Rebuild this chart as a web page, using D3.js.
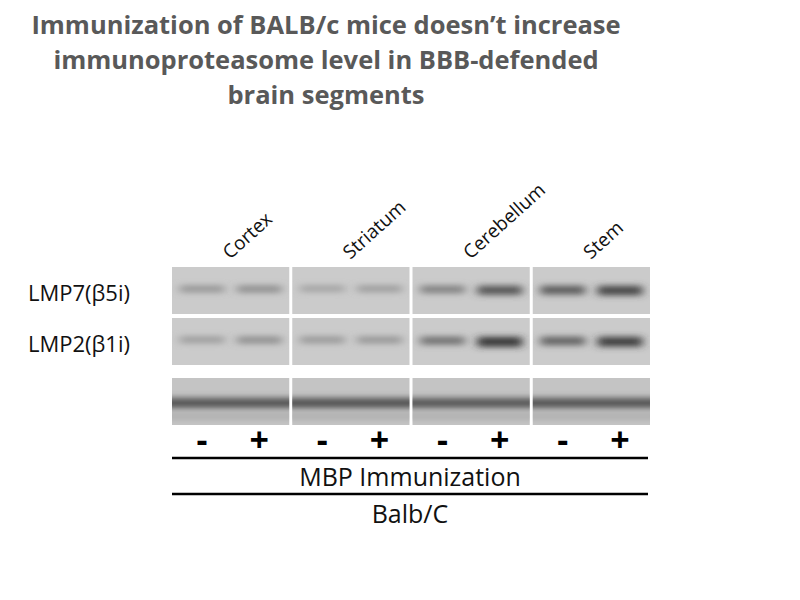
<!DOCTYPE html>
<html>
<head>
<meta charset="utf-8">
<script src="https://cdn.jsdelivr.net/npm/d3@7"></script>
<style>
body { margin: 0; background: #fff; }
text { font-family: "Open Sans", "Noto Sans", sans-serif; }
</style>
</head>
<body>
<div id="chart"></div>
<script>
// 数据
var regions = ['Cortex', 'Striatum', 'Cerebellum', 'Stem'];
var lanes = ['-', '+'];
var rows = ['LMP7(β5i)', 'LMP2(β1i)', ''];
// band intensity per region, lane (0..1)
var lmp7 = [[0.30, 0.35], [0.20, 0.25], [0.45, 0.75], [0.70, 0.85]];
var lmp2 = [[0.25, 0.35], [0.28, 0.30], [0.55, 0.95], [0.65, 0.90]];
var loading = [[0.70, 0.72], [0.72, 0.72], [0.68, 0.70], [0.70, 0.66]];
var titleLines = ['Immunization of BALB/c mice doesn\u2019t increase',
                  'immunoproteasome level in BBB-defended', 'brain segments'];

var width = 800, height = 600;
var svg = d3.select('#chart').append('svg').attr('width', width).attr('height', height);

var blur = svg.append('defs').append('filter').attr('id', 'blur')
    .attr('x', '-30%').attr('y', '-150%').attr('width', '160%').attr('height', '400%');
blur.append('feGaussianBlur').attr('stdDeviation', '5 3');

// 标题
svg.selectAll('.title').data(titleLines).enter().append('text')
    .attr('x', 326).attr('y', function(d, i) { return 34 + i * 35; })
    .attr('text-anchor', 'middle').style('font-size', '25.5px').style('font-weight', 'bold')
    .attr('fill', '#595959').text(function(d) { return d; });

// 面板比例尺
var panelX = d3.scaleBand().domain(regions).range([172, 650]).paddingInner(0.025);
var laneX = d3.scaleBand().domain(lanes).range([0, 1]).padding(0.05);
var rowY = d3.scaleOrdinal().domain([0, 1, 2]).range([267, 318, 378]);
var rowH = 47;
var bandShade = d3.scaleLinear().domain([0, 1]).range(['#b4b4b4', '#2a2a2a']);
var allData = [lmp7, lmp2, loading];

allData.forEach(function(data, r) {
    regions.forEach(function(reg, p) {
        var x0 = panelX(reg), w = panelX.bandwidth(), y0 = rowY(r);
        var g = svg.append('g');
        g.append('rect').attr('x', x0).attr('y', y0).attr('width', w).attr('height', rowH)
            .attr('fill', r === 2 ? '#c4c4c4' : '#cbcbcb');
        var clip = 'clip' + r + '_' + p;
        svg.select('defs').append('clipPath').attr('id', clip).append('rect')
            .attr('x', x0).attr('y', y0).attr('width', w).attr('height', rowH);
        var bands = g.append('g').attr('clip-path', 'url(#' + clip + ')');
        if (r === 2) {
            // continuous loading band across panel
            bands.append('rect').attr('x', x0 - 10).attr('y', y0 + 20).attr('width', w + 20).attr('height', 10)
                .attr('fill', bandShade(data[p][0])).attr('filter', 'url(#blur)');
            bands.append('rect').attr('x', x0 - 10).attr('y', y0 + 36).attr('width', w + 20).attr('height', 5)
                .attr('fill', '#a8a8a8').attr('filter', 'url(#blur)');
        } else {
            lanes.forEach(function(l, k) {
                var cx = x0 + w * (laneX(l) + laneX.bandwidth() / 2);
                var v = data[p][k];
                bands.append('rect').attr('x', cx - w * 0.19).attr('y', y0 + 19)
                    .attr('width', w * 0.38).attr('height', 4 + v * 6)
                    .attr('fill', bandShade(v)).attr('filter', 'url(#blur)');
            });
        }
    });
});

// 行标签
rows.forEach(function(t, i) {
    if (!t) return;
    svg.append('text').attr('x', 28).attr('y', rowY(i) + 34).style('font-size', '22px')
        .attr('fill', '#111').text(t);
});

// 区域标签（倾斜）
svg.selectAll('.reg').data(regions).enter().append('text')
    .attr('transform', function(d) {
        return 'translate(' + (panelX(d) + 58) + ',260) rotate(-42)';
    })
    .style('font-size', '19px').attr('fill', '#111').text(function(d) { return d; });

// +/- 标记
regions.forEach(function(reg) {
    lanes.forEach(function(l) {
        var cx = panelX(reg) + panelX.bandwidth() * (laneX(l) + laneX.bandwidth() / 2);
        svg.append('text').attr('x', cx).attr('y', 452).attr('text-anchor', 'middle')
            .style('font-size', '34px').style('font-weight', 'bold').attr('fill', '#000').text(l);
    });
});

// 分隔线和说明
[458, 494].forEach(function(y) {
    svg.append('line').attr('x1', 172).attr('x2', 648).attr('y1', y).attr('y2', y)
        .attr('stroke', '#000').attr('stroke-width', 2.5);
});
svg.append('text').attr('x', 410).attr('y', 486).attr('text-anchor', 'middle')
    .style('font-size', '25px').attr('fill', '#111').text('MBP Immunization');
svg.append('text').attr('x', 410).attr('y', 523).attr('text-anchor', 'middle')
    .style('font-size', '25px').attr('fill', '#111').text('Balb/C');
</script>
</body>
</html>
